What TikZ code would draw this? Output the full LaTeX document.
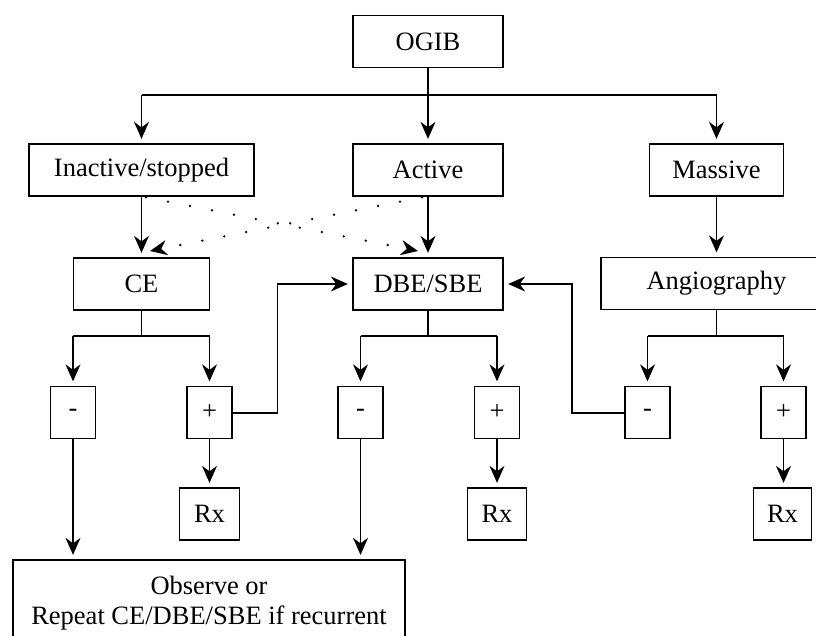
\documentclass[tikz,border=0pt]{standalone}
\usepackage{fontspec}
\setmainfont{Liberation Serif}
\usetikzlibrary{arrows.meta}
\begin{document}
\begin{tikzpicture}[x=1pt,y=-1pt,
  box/.style={draw, line width=1.3pt, inner sep=0pt, minimum height=52pt, font=\fontsize{26.5}{30}\selectfont, align=center},
  conn/.style={line width=1.2pt},
  tip/.style={-{Stealth[length=17pt,width=15pt,inset=5.5pt]}},
  arr/.style={conn, tip, shorten >=4.5pt},
  dotline/.style={line width=2.6pt, line cap=round, dash pattern=on 0pt off 22.4pt, tip}
]
\clip (0,0) rectangle (816,635);
% boxes
\node[box, minimum width=150pt] (ogib) at (428,41.5) {OGIB};
\node[box, minimum width=225pt] (inact) at (141.5,170) {Inactive/stopped};
\node[box, minimum width=150pt] (act) at (428,170) {Active};
\node[box, minimum width=134pt] (mass) at (716.5,170) {Massive};
\node[box, minimum width=136pt] (ce) at (141.5,284) {CE};
\node[box, minimum width=150pt] (dbe) at (428,284) {DBE/SBE};
\node[box, minimum width=231pt] (ang) at (716.5,283.5) {Angiography};
\node[box, minimum width=45pt] (cem) at (73,412.5) {-};
\node[box, minimum width=45pt] (cep) at (209.5,412.5) {+};
\node[box, minimum width=45pt] (dbem) at (360.5,412.5) {-};
\node[box, minimum width=45pt] (dbep) at (497,412.5) {+};
\node[box, minimum width=45pt] (angm) at (647.5,412.5) {-};
\node[box, minimum width=45pt] (angp) at (783.5,412.5) {+};
\node[box, minimum width=59.5pt] (rx1) at (209.5,514) {Rx};
\node[box, minimum width=59.5pt] (rx2) at (497,514) {Rx};
\node[box, minimum width=58pt] (rx3) at (782.5,514) {Rx};
\node[box, minimum width=392pt, minimum height=87pt] (obs) at (209,603.5) {Observe or\\Repeat CE/DBE/SBE if recurrent};
% junctions
\coordinate (j0) at (428,95);
\coordinate (j0l) at (141.5,95);
\coordinate (j0r) at (716.5,95);
\draw[conn] (ogib.south) -- (j0);
\draw[conn] (j0l) -- (j0r);
\draw[arr] (j0l) -- (inact.north);
\draw[arr] (j0) -- (act.north);
\draw[arr] (j0r) -- (mass.north);
\draw[arr] (inact.south) -- (ce.north);
\draw[arr] (act.south) -- (dbe.north);
\draw[arr] (mass.south) -- (ang.north);
% CE split
\coordinate (j1) at (141.5,336);
\draw[conn] (ce.south) -- (j1);
\draw[conn] (j1 -| cem.north) -- (j1 -| cep.north);
\draw[arr] (j1 -| cem.north) -- (cem.north);
\draw[arr] (j1 -| cep.north) -- (cep.north);
% DBE split
\coordinate (j2) at (428,336);
\draw[conn] (dbe.south) -- (j2);
\draw[conn] (j2 -| dbem.north) -- (j2 -| dbep.north);
\draw[arr] (j2 -| dbem.north) -- (dbem.north);
\draw[arr] (j2 -| dbep.north) -- (dbep.north);
% Angio split
\coordinate (j3) at (716.5,336);
\draw[conn] (ang.south) -- (j3);
\draw[conn] (j3 -| angm.north) -- (j3 -| angp.north);
\draw[arr] (j3 -| angm.north) -- (angm.north);
\draw[arr] (j3 -| angp.north) -- (angp.north);
% to Rx
\draw[arr] (cep.south) -- (rx1.north);
\draw[arr] (dbep.south) -- (rx2.north);
\draw[arr] (angp.south) -- (angp.south |- rx3.north);
% to observe
\draw[arr] (cem.south) -- (cem.south |- obs.north);
\draw[arr] (dbem.south) -- (dbem.south |- obs.north);
% loops back to DBE
\coordinate (lx) at (277.5,413);
\coordinate (rx) at (572,413);
\draw[arr] (cep.east |- lx) -- (lx) -- (lx |- dbe.west) -- (dbe.west);
\draw[arr] (angm.west |- rx) -- (rx) -- (rx |- dbe.east) -- (dbe.east);
% dotted
\coordinate (d1s) at (146,197.3);
\coordinate (d1e) at (418,251);
\coordinate (d2s) at (422,197.3);
\coordinate (d2e) at (150,251);
\draw[dotline] (d1s) -- (d1e);
\draw[dotline] (d2s) -- (d2e);
\end{tikzpicture}
\end{document}
